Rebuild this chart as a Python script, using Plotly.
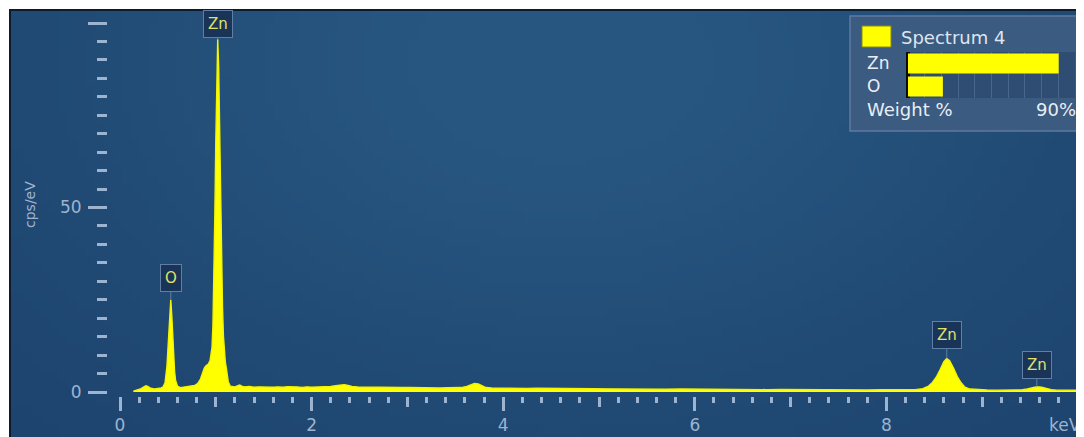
import base64
import struct
import zlib

import numpy as np
import plotly.graph_objects as go

# ---------------- data ----------------
energy_kev = [
    0.14, 0.18, 0.22, 0.25, 0.27, 0.29, 0.32, 0.36, 0.40, 0.43,
    0.45, 0.47, 0.49, 0.50, 0.51, 0.52, 0.53, 0.54, 0.55, 0.56,
    0.57, 0.58, 0.60, 0.63, 0.66, 0.70, 0.74, 0.78, 0.81, 0.84,
    0.86, 0.88, 0.90, 0.92, 0.94, 0.96, 0.97, 0.98, 0.99, 1.00,
    1.01, 1.02, 1.03, 1.04, 1.05, 1.06, 1.07, 1.08, 1.09, 1.10,
    1.11, 1.12, 1.13, 1.15, 1.17, 1.20, 1.23, 1.25, 1.27, 1.30,
    1.35, 1.40, 1.45, 1.50, 1.55, 1.60, 1.65, 1.70, 1.75, 1.80,
    1.85, 1.90, 1.95, 2.00, 2.05, 2.10, 2.15, 2.20, 2.25, 2.30,
    2.34, 2.38, 2.42, 2.48, 2.55, 2.62, 2.70, 2.78, 2.86, 2.94,
    3.02, 3.10, 3.18, 3.26, 3.34, 3.42, 3.50, 3.56, 3.62, 3.66,
    3.70, 3.74, 3.78, 3.82, 3.88, 3.95, 4.05, 4.15, 4.25, 4.35,
    4.45, 4.55, 4.65, 4.75, 4.85, 4.95, 5.10, 5.25, 5.40, 5.55,
    5.70, 5.85, 6.00, 6.15, 6.30, 6.45, 6.60, 6.75, 6.90, 7.05,
    7.20, 7.35, 7.50, 7.65, 7.80, 7.95, 8.10, 8.20, 8.30, 8.38,
    8.44, 8.48, 8.52, 8.56, 8.60, 8.63, 8.66, 8.70, 8.74, 8.78,
    8.82, 8.87, 8.95, 9.05, 9.15, 9.25, 9.35, 9.42, 9.47, 9.52,
    9.57, 9.62, 9.67, 9.72, 9.78, 9.85, 9.95, 10.06,
]
counts_cps_ev = [
    0.2, 0.5, 0.9, 1.4, 1.7, 1.5, 1.0, 0.8, 0.9, 1.1,
    1.4, 2.5, 7.0, 11.0, 16.0, 22.0, 25.0, 21.0, 15.0, 9.5,
    5.5, 3.2, 1.6, 1.2, 1.3, 1.4, 1.5, 1.8, 2.3, 3.5,
    5.0, 6.5, 7.2, 7.5, 8.5, 12.0, 18.0, 30.0, 48.0, 68.0,
    86.0, 95.6, 88.0, 70.0, 52.0, 36.0, 23.0, 15.0, 10.0, 8.0,
    6.5, 5.0, 2.8, 1.6, 1.5, 1.4, 1.7, 1.9, 1.6, 1.4,
    1.5, 1.3, 1.4, 1.35, 1.5, 1.3, 1.4, 1.3, 1.45, 1.3,
    1.35, 1.25, 1.4, 1.3, 1.3, 1.35, 1.4, 1.5, 1.7, 1.9,
    2.0, 1.8, 1.5, 1.35, 1.3, 1.25, 1.3, 1.2, 1.25, 1.2,
    1.2, 1.15, 1.2, 1.15, 1.1, 1.15, 1.1, 1.2, 1.5, 2.0,
    2.3, 2.2, 1.6, 1.2, 1.1, 1.05, 1.0, 1.05, 0.95, 1.0,
    0.95, 0.9, 0.95, 0.9, 0.85, 0.9, 0.85, 0.8, 0.85, 0.8,
    0.75, 0.8, 0.75, 0.7, 0.75, 0.7, 0.7, 0.65, 0.7, 0.65,
    0.6, 0.65, 0.6, 0.6, 0.55, 0.6, 0.55, 0.6, 0.65, 0.9,
    1.6, 2.6, 4.0, 6.0, 8.2, 9.1, 8.5, 6.5, 4.2, 2.5,
    1.3, 0.8, 0.6, 0.55, 0.5, 0.55, 0.5, 0.6, 0.8, 1.15,
    1.4, 1.3, 0.95, 0.65, 0.5, 0.5, 0.45, 0.45,
]

peak_labels = ["O", "Zn", "Zn", "Zn"]
peak_energy = [0.53, 1.02, 8.63, 9.57]

x_tick_vals = [0, 2, 4, 6, 8, 10]
x_tick_text = ["0", "2", "4", "6", "8", "keV"]
x_odd_ticks = [1, 3, 5, 7, 9]
y_tick_vals = [0, 50, 100]
y_tick_text = ["0", "50", ""]

spectrum_name = "Spectrum 4"
elements = ["Zn", "O"]
weight_pct = [81.2, 18.8]
weight_scale_max = 90

# ---------------- geometry helpers (window pixel -> paper) ----------------
# the page body has an 8px margin; coordinates below are window pixels
OFF = 8
W, H = 1076, 429
ML, MR, MT, MB = 100, 0, 3, 41
PW, PH = W - ML - MR, H - MT - MB
PLOT_LEFT = OFF + ML
PLOT_BOTTOM = OFF + H - MB


def px(x):
    return (x - PLOT_LEFT) / PW


def py(y):
    return (PLOT_BOTTOM - y) / PH


def png_uri(arr):
    h, w, _ = arr.shape
    raw = b"".join(b"\x00" + arr[r].tobytes() for r in range(h))

    def chunk(t, d):
        return (struct.pack(">I", len(d)) + t + d
                + struct.pack(">I", zlib.crc32(t + d) & 0xFFFFFFFF))

    png = (b"\x89PNG\r\n\x1a\n"
           + chunk(b"IHDR", struct.pack(">IIBBBBB", w, h, 8, 2, 0, 0, 0))
           + chunk(b"IDAT", zlib.compress(raw, 9)) + chunk(b"IEND", b""))
    return "data:image/png;base64," + base64.b64encode(png).decode()


# background glow (style only)
gw, gh = 120, 48
gx = np.linspace(10, 1084, gw)[None, :]
gy = np.linspace(10, 437, gh)[:, None]
glow = np.exp(-(((gx - 560) / 540) ** 2 + ((gy - 60) / 360) ** 2))
edge = np.array([28, 66, 108], float)
centre = np.array([40, 88, 130], float)
bg = (edge + (centre - edge) * glow[..., None]).clip(0, 255).astype(np.uint8)

TICK = "#9db4d0"
FONT = "DejaVu Sans"

fig = go.Figure()
fig.add_trace(go.Scatter(
    x=energy_kev, y=counts_cps_ev, mode="lines", fill="tozeroy",
    fillcolor="#ffff00", line=dict(color="#f4f400", width=1.4),
    hoverinfo="skip", showlegend=False,
))
fig.add_trace(go.Scatter(x=[x_odd_ticks[0]], y=[0], xaxis="x2", yaxis="y",
                         mode="markers", marker=dict(opacity=0),
                         hoverinfo="skip", showlegend=False))
fig.add_trace(go.Bar(
    x=weight_pct, y=elements, orientation="h", xaxis="x3", yaxis="y3",
    marker=dict(color="#ffff00", line=dict(width=0)), width=0.86,
    hoverinfo="skip", showlegend=False,
))

images = [dict(source=png_uri(bg), xref="paper", yref="paper",
               x=px(10), y=py(10), sizex=px(1084) - px(10), sizey=py(10) - py(437),
               sizing="stretch", xanchor="left", yanchor="top", layer="below")]

shapes = [
    dict(type="rect", xref="paper", yref="paper",
         x0=px(10), x1=px(1095), y0=py(450), y1=py(10),
         fillcolor="rgba(0,0,0,0)", line=dict(color="#0d1b2e", width=2),
         layer="below"),
    dict(type="rect", xref="paper", yref="paper",
         x0=px(850), x1=px(1080), y0=py(131), y1=py(16),
         fillcolor="#3c5b80", line=dict(color="#5d7aa0", width=1.5),
         layer="below"),
    dict(type="rect", xref="paper", yref="paper",
         x0=px(862), x1=px(891), y0=py(47), y1=py(26),
         fillcolor="#ffff00", line=dict(color="#8a8a10", width=1),
         layer="below"),
    dict(type="rect", xref="paper", yref="paper",
         x0=px(908), x1=px(1075), y0=py(98), y1=py(52),
         fillcolor="#2f4d72", line=dict(width=0), layer="below"),
]

annotations = []
offsets = [-22, -15, -23, -22]
for lab, e, dy in zip(peak_labels, peak_energy, offsets):
    top = max(c for x, c in zip(energy_kev, counts_cps_ev) if abs(x - e) < 0.06)
    annotations.append(dict(
        x=e, y=top, xref="x", yref="y", text=lab, showarrow=True,
        arrowhead=0, arrowwidth=1, arrowcolor="#5f7fa6", ax=0, ay=dy,
        standoff=0, font=dict(family=FONT, size=15, color="#dfe26a"),
        bgcolor="#1a3457", bordercolor="#5f7fa6", borderwidth=1, borderpad=4,
    ))
# last x tick label ("keV"), kept inside the right edge
annotations.append(dict(x=px(1083), y=py(425), xref="paper", yref="paper",
                        text=x_tick_text[-1], showarrow=False,
                        xanchor="right", yanchor="middle",
                        font=dict(family=FONT, size=17, color=TICK)))
annotations.append(dict(x=px(30), y=py(205), xref="paper", yref="paper",
                        text="cps/eV", textangle=-90, showarrow=False,
                        xanchor="center", yanchor="middle",
                        font=dict(family=FONT, size=14, color=TICK)))
annotations.append(dict(x=px(899), y=py(37), xref="paper", yref="paper",
                        text=spectrum_name, showarrow=False, xanchor="left",
                        yanchor="middle",
                        font=dict(family=FONT, size=18, color="#dde6f0")))
for i, el in enumerate(elements):
    annotations.append(dict(x=px(865), y=py(63 + 23 * i), xref="paper", yref="paper",
                            text=el, showarrow=False, xanchor="left",
                            yanchor="middle",
                            font=dict(family=FONT, size=17, color="#e8eef5")))
annotations.append(dict(x=px(865), y=py(110), xref="paper", yref="paper",
                        text="Weight %", showarrow=False, xanchor="left",
                        yanchor="middle",
                        font=dict(family=FONT, size=18, color="#e8eef5")))
annotations.append(dict(x=px(1078), y=py(110), xref="paper", yref="paper",
                        text=f"{weight_scale_max}%", showarrow=False, xanchor="right",
                        yanchor="middle",
                        font=dict(family=FONT, size=18, color="#e8eef5")))

xr = [-12 / 95.8, 10 + 6 / 95.8]
yr = [-4 / 3.69, 381 / 3.69]

fig.update_layout(
    width=W, height=H, margin=dict(l=ML, r=MR, t=MT, b=MB, autoexpand=False),
    paper_bgcolor="white", plot_bgcolor="rgba(0,0,0,0)",
    images=images, shapes=shapes, annotations=annotations, showlegend=False,
    xaxis=dict(range=xr, tickvals=x_tick_vals,
               ticktext=x_tick_text[:-1] + [""],
               ticks="outside", ticklen=14, tickwidth=3, tickcolor=TICK,
               showgrid=False, zeroline=False, showline=False, automargin=False,
               tickfont=dict(family=FONT, size=17, color=TICK),
               minor=dict(dtick=0.2, tick0=0, ticks="outside", ticklen=6,
                          tickwidth=3, tickcolor=TICK, showgrid=False)),
    xaxis2=dict(range=xr, overlaying="x", anchor="y", side="bottom",
                tickvals=x_odd_ticks, ticks="outside", ticklen=10, tickwidth=3,
                tickcolor=TICK, showticklabels=False, showgrid=False,
                zeroline=False, showline=False),
    yaxis=dict(range=yr, tickvals=y_tick_vals, ticktext=y_tick_text,
               ticks="outside", ticklen=19, tickwidth=3, tickcolor=TICK,
               showgrid=False, zeroline=False, showline=False,
               ticklabelstandoff=3,
               tickfont=dict(family=FONT, size=17, color=TICK),
               minor=dict(dtick=5, tick0=0, ticks="outside", ticklen=10,
                          tickwidth=3, tickcolor=TICK, showgrid=False)),
    xaxis3=dict(domain=[px(908), px(1075)], anchor="y3", range=[0, weight_scale_max],
                showticklabels=False, showgrid=True, gridcolor="#48668b",
                gridwidth=1, dtick=weight_scale_max / 10, zeroline=True,
                zerolinecolor="#0b0b0b", zerolinewidth=4, showline=False),
    yaxis3=dict(domain=[py(98), py(52)], anchor="x3", showticklabels=False,
                showgrid=False, zeroline=False, autorange="reversed",
                fixedrange=True),
)

fig.write_html("out.html")
